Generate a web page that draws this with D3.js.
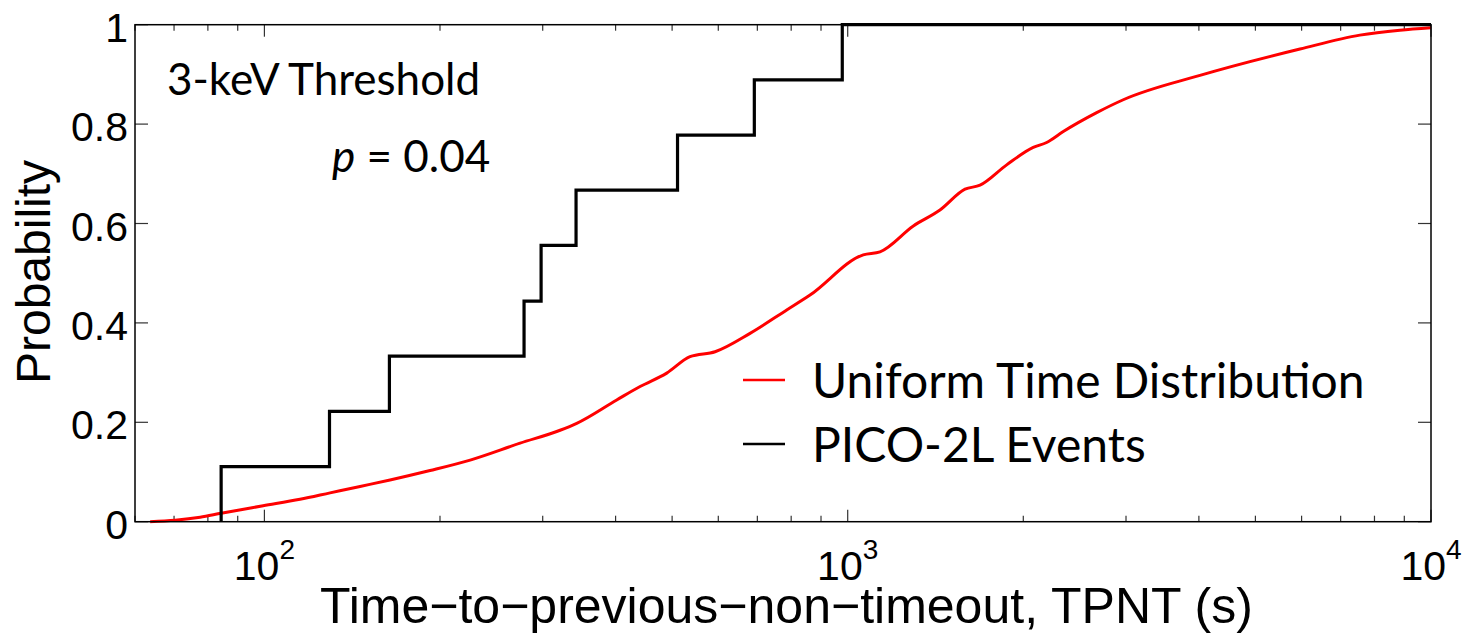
<!DOCTYPE html>
<html>
<head>
<meta charset="utf-8">
<script src="https://cdn.jsdelivr.net/npm/d3@7"></script>
<style>
  html, body { margin: 0; padding: 0; background: #fff; }
  svg { display: block; }
</style>
</head>
<body>
<svg id="chart" width="1469" height="634"></svg>
<script>
// Simulated CDF of time-to-previous-non-timeout for a uniform time distribution
const uniformT = [63.7, 70.3, 77.6, 84.3, 99.5, 115.1, 129.6, 145.9, 164.2, 192.3, 225.3, 274.4,
  321.3, 343.1, 401.8, 440.6, 489.5, 536.6, 592.4, 680.1, 786.1, 861.8, 1063.3, 1136,
  1295.8, 1439.4, 1589, 1686, 1873, 2080, 2193, 2342, 2672, 2968, 4017, 5962, 7551, 8845, 10000];
const uniformP = [0.0, 0.003, 0.009, 0.017, 0.032, 0.045, 0.058, 0.071, 0.084, 0.103, 0.124, 0.158,
  0.184, 0.198, 0.245, 0.272, 0.299, 0.332, 0.342, 0.379, 0.426, 0.456, 0.537, 0.543,
  0.595, 0.627, 0.669, 0.677, 0.718, 0.753, 0.763, 0.785, 0.823, 0.849, 0.898, 0.951, 0.979, 0.989, 0.994];

// PICO-2L events: observed TPNT values and empirical CDF
const eventT = [84.3, 129.3, 163.8, 278.7, 298.1, 342.2, 510.8, 691.7, 978.8];
const eventP = [0.111, 0.222, 0.333, 0.444, 0.556, 0.667, 0.778, 0.889, 1.0];

const xMajorTicks = [100, 1000, 10000];
const xMinorTicks = [60, 70, 80, 90, 200, 300, 400, 500, 600, 700, 800, 900,
  2000, 3000, 4000, 5000, 6000, 7000, 8000, 9000];
const yTicks = [0, 0.2, 0.4, 0.6, 0.8, 1];
const yTickLabels = ["0", "0.2", "0.4", "0.6", "0.8", "1"];
const xExponents = ["2", "3", "4"];

const legendLabels = ["Uniform Time Distribution", "PICO-2L Events"];
const legendColors = ["#ff0000", "#000000"];

const svg = d3.select("#chart");
const plot = { left: 135, right: 1431, top: 24.7, bottom: 521.7 };

const x = d3.scaleLog().domain([60, 10000]).range([plot.left, plot.right]);
const y = d3.scaleLinear().domain([0, 1]).range([plot.bottom, plot.top]);

svg.append("clipPath").attr("id", "clip")
  .append("rect")
  .attr("x", plot.left).attr("y", plot.top - 2)
  .attr("width", plot.right - plot.left).attr("height", plot.bottom - plot.top + 4);

const axisFont = "'Liberation Sans', Arial, Helvetica, sans-serif";
const textFont = "Lato, 'Open Sans', sans-serif";

// ticks (inward, mirrored on opposite sides)
const tickG = svg.append("g").attr("stroke", "#333").attr("stroke-width", 1.2);
xMajorTicks.forEach(t => {
  tickG.append("line").attr("x1", x(t)).attr("x2", x(t)).attr("y1", plot.bottom).attr("y2", plot.bottom - 12);
  tickG.append("line").attr("x1", x(t)).attr("x2", x(t)).attr("y1", plot.top).attr("y2", plot.top + 12);
});
xMinorTicks.forEach(t => {
  tickG.append("line").attr("x1", x(t)).attr("x2", x(t)).attr("y1", plot.bottom).attr("y2", plot.bottom - 6);
  tickG.append("line").attr("x1", x(t)).attr("x2", x(t)).attr("y1", plot.top).attr("y2", plot.top + 6);
});
yTicks.forEach(v => {
  tickG.append("line").attr("x1", plot.left).attr("x2", plot.left + 13).attr("y1", y(v)).attr("y2", y(v));
  tickG.append("line").attr("x1", plot.right).attr("x2", plot.right - 13).attr("y1", y(v)).attr("y2", y(v));
});

// y tick labels
svg.append("g").selectAll("text").data(yTicks).join("text")
  .attr("x", plot.left - 7)
  .attr("y", d => y(d) + 17)
  .attr("text-anchor", "end")
  .attr("font-family", axisFont)
  .attr("font-size", 41)
  .attr("fill", "#000")
  .text((d, i) => yTickLabels[i]);

// x tick labels: 10 with superscript exponent
xMajorTicks.forEach((t, i) => {
  const txt = svg.append("text")
    .attr("x", x(t)).attr("y", 580)
    .attr("text-anchor", "middle")
    .attr("font-family", axisFont)
    .attr("font-size", 41)
    .attr("fill", "#000");
  txt.append("tspan").text("10");
  txt.append("tspan").attr("dy", -21).attr("font-size", 28).text(xExponents[i]);
});

// axis titles
svg.append("text")
  .attr("x", 320).attr("y", 623)
  .attr("text-anchor", "start")
  .attr("font-family", axisFont)
  .attr("font-size", 50)
  .attr("fill", "#000")
  .text("Time\u2212to\u2212previous\u2212non\u2212timeout, TPNT (s)");

svg.append("text")
  .attr("transform", `translate(50, 272) rotate(-90)`)
  .attr("text-anchor", "middle")
  .attr("font-family", axisFont)
  .attr("font-size", 48)
  .attr("fill", "#000")
  .text("Probability");

// curves
const g = svg.append("g").attr("clip-path", "url(#clip)");

const redLine = d3.line().x(d => x(d)).y((d, i) => y(uniformP[i])).curve(d3.curveMonotoneX);
g.append("path")
  .attr("d", redLine(uniformT))
  .attr("fill", "none")
  .attr("stroke", "#ff0000")
  .attr("stroke-width", 3)
  .attr("stroke-linejoin", "round");

const stepPts = [[eventT[0], 0]].concat(eventT.map((t, i) => [t, eventP[i]]), [[10000, eventP[eventP.length - 1]]]);
const stepLine = d3.line().x(d => x(d[0])).y(d => y(d[1])).curve(d3.curveStepAfter);
g.append("path")
  .attr("d", stepLine(stepPts))
  .attr("fill", "none")
  .attr("stroke", "#000")
  .attr("stroke-width", 3.2);

// frame
svg.append("rect")
  .attr("x", plot.left).attr("y", plot.top)
  .attr("width", plot.right - plot.left).attr("height", plot.bottom - plot.top)
  .attr("fill", "none").attr("stroke", "#000").attr("stroke-width", 1.5);

// annotations
svg.append("text")
  .attr("x", 167).attr("y", 95)
  .attr("font-family", textFont).attr("font-size", 44).attr("fill", "#000")
  .text("3-keV Threshold");

const pText = svg.append("text")
  .attr("x", 332).attr("y", 172)
  .attr("font-family", textFont).attr("font-size", 44).attr("fill", "#000");
pText.append("tspan").attr("font-style", "italic").text("p");
pText.append("tspan").text(" = 0.04");

// legend
const legend = svg.append("g");
legendLabels.forEach((lab, i) => {
  const ly = 380 + i * 64;
  legend.append("line")
    .attr("x1", 743).attr("x2", 785).attr("y1", ly).attr("y2", ly)
    .attr("stroke", legendColors[i]).attr("stroke-width", 2.5);
  legend.append("text")
    .attr("x", 812).attr("y", ly + 18)
    .attr("font-family", textFont).attr("font-size", 48).attr("fill", "#000")
    .text(lab);
});
</script>
</body>
</html>
